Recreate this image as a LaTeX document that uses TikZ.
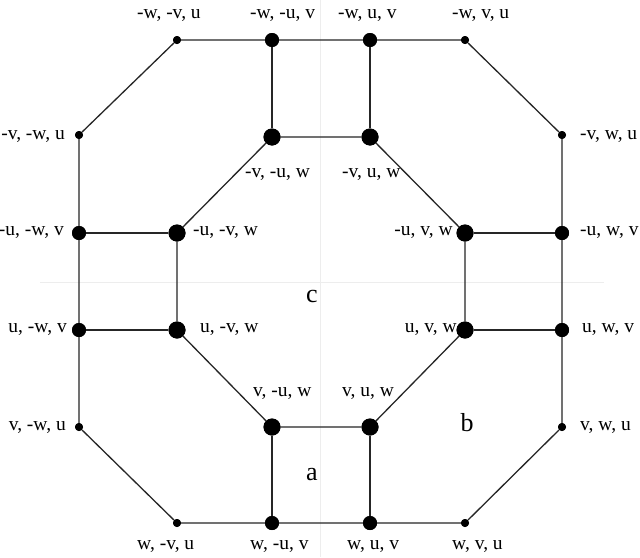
\documentclass[tikz,border=0pt]{standalone}
\usepackage{fontspec}
\setmainfont{Liberation Serif}
\begin{document}
\begin{tikzpicture}[x=1pt,y=-1pt,
  edge/.style={line width=1.3pt,draw=black!85},
  sdot/.style={circle,fill=black,inner sep=0pt,minimum size=8pt},
  mdot/.style={circle,fill=black,inner sep=0pt,minimum size=14pt},
  ldot/.style={circle,fill=black,inner sep=0pt,minimum size=17pt},
  lab/.style={inner sep=0pt,font=\fontsize{19.5}{22}\selectfont},
  reg/.style={inner sep=0pt,font=\fontsize{26}{30}\selectfont},
  faint/.style={draw=black!7,line width=0.8pt}]
\useasboundingbox (0,0) rectangle (640,557);
\fill[white] (0,0) rectangle (640,557);
% faint guide lines
\coordinate (g1) at (320,0); \coordinate (g2) at (320,557);
\coordinate (g3) at (40,282); \coordinate (g4) at (604,282);
\draw[faint] (g1) -- (g2);
\draw[faint] (g3) -- (g4);
% outer nodes
\node[sdot] (o1) at (177,40) {};
\node[mdot] (o2) at (272,40) {};
\node[mdot] (o3) at (370,40) {};
\node[sdot] (o4) at (465,40) {};
\node[sdot] (o5) at (562,135) {};
\node[mdot] (o6) at (562,233) {};
\node[mdot] (o7) at (562,330) {};
\node[sdot] (o8) at (562,427) {};
\node[sdot] (o9) at (465,523) {};
\node[mdot] (o10) at (370,523) {};
\node[mdot] (o11) at (272,523) {};
\node[sdot] (o12) at (177,523) {};
\node[sdot] (o13) at (79,427) {};
\node[mdot] (o14) at (79,330) {};
\node[mdot] (o15) at (79,233) {};
\node[sdot] (o16) at (79,135) {};
% inner nodes
\node[ldot] (i1) at (272,137) {};
\node[ldot] (i2) at (370,137) {};
\node[ldot] (i3) at (465,233) {};
\node[ldot] (i4) at (465,330) {};
\node[ldot] (i5) at (370,427) {};
\node[ldot] (i6) at (272,427) {};
\node[ldot] (i7) at (177,330) {};
\node[ldot] (i8) at (177,233) {};
% edges
\draw[edge] (o1) -- (o2) -- (o3) -- (o4) -- (o5) -- (o6) -- (o7) -- (o8) -- (o9) -- (o10) -- (o11) -- (o12) -- (o13) -- (o14) -- (o15) -- (o16) -- (o1);
\draw[edge] (i1) -- (i2) -- (i3) -- (i4) -- (i5) -- (i6) -- (i7) -- (i8) -- (i1);
\draw[edge] (o2) -- (i1);
\draw[edge] (o3) -- (i2);
\draw[edge] (o6) -- (i3);
\draw[edge] (o7) -- (i4);
\draw[edge] (o10) -- (i5);
\draw[edge] (o11) -- (i6);
\draw[edge] (o14) -- (i7);
\draw[edge] (o15) -- (i8);
% redraw dots on top
\foreach \n in {o1,o4,o5,o8,o9,o12,o13,o16} {\fill[black] (\n) circle (4pt);}
\foreach \n in {o2,o3,o6,o7,o10,o11,o14,o15} {\fill[black] (\n) circle (7pt);}
\foreach \n in {i1,i2,i3,i4,i5,i6,i7,i8} {\fill[black] (\n) circle (8.5pt);}
% labels
\node[lab,anchor=west] (l1) at (137,16) {-w, -v, u};
\node[lab,anchor=west] (l2) at (250,16) {-w, -u, v};
\node[lab,anchor=west] (l3) at (338,16) {-w, u, v};
\node[lab,anchor=west] (l4) at (452,16) {-w, v, u};
\node[lab,anchor=east] (l5) at (65,137) {-v, -w, u};
\node[lab,anchor=west] (l6) at (580,137) {-v, w, u};
\node[lab,anchor=west] (l7) at (245,175) {-v, -u, w};
\node[lab,anchor=west] (l8) at (342,175) {-v, u, w};
\node[lab,anchor=east] (l9) at (64,233) {-u, -w, v};
\node[lab,anchor=west] (l10) at (193,233) {-u, -v, w};
\node[lab,anchor=east] (l11) at (453,233) {-u, v, w};
\node[lab,anchor=west] (l12) at (580,233) {-u, w, v};
\node[lab,anchor=east] (l13) at (67,330) {u, -w, v};
\node[lab,anchor=west] (l14) at (200,330) {u, -v, w};
\node[lab,anchor=east] (l15) at (457,330) {u, v, w};
\node[lab,anchor=west] (l16) at (582,330) {u, w, v};
\node[lab,anchor=west] (l17) at (253,394) {v, -u, w};
\node[lab,anchor=west] (l18) at (342,394) {v, u, w};
\node[lab,anchor=east] (l19) at (66,428) {v, -w, u};
\node[lab,anchor=west] (l20) at (580,428) {v, w, u};
\node[lab,anchor=west] (l21) at (137,547) {w, -v, u};
\node[lab,anchor=west] (l22) at (250,547) {w, -u, v};
\node[lab,anchor=west] (l23) at (347,547) {w, u, v};
\node[lab,anchor=west] (l24) at (452,547) {w, v, u};
% region letters
\node[reg] (rc) at (312,296) {c};
\node[reg] (rb) at (467,423) {b};
\node[reg] (ra) at (312,475) {a};
\end{tikzpicture}
\end{document}
